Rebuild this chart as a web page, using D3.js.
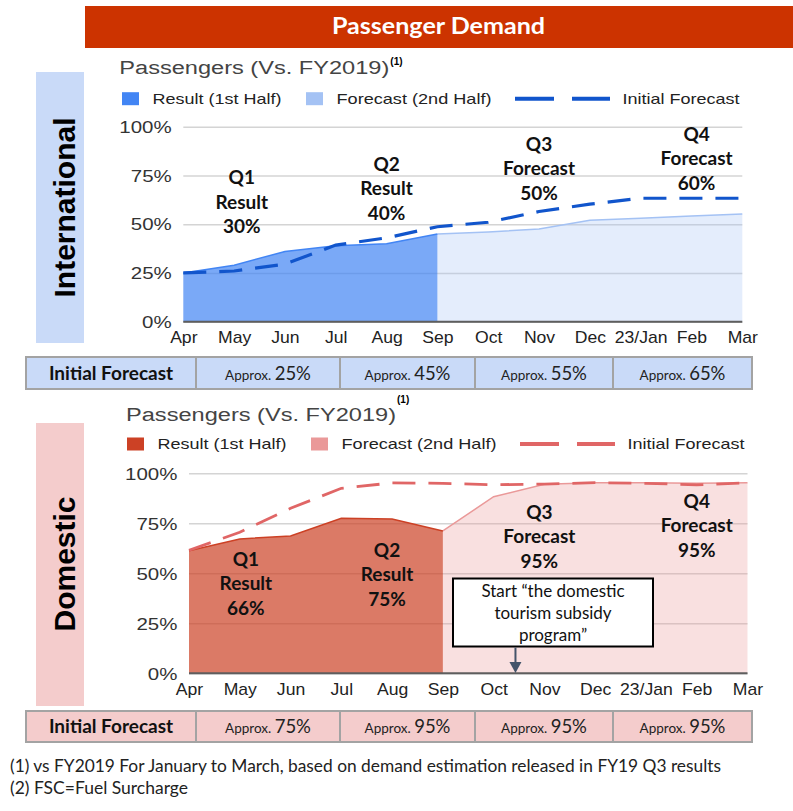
<!DOCTYPE html>
<html><head><meta charset="utf-8">
<script src="https://cdn.jsdelivr.net/npm/d3@7"></script>
<style>body{margin:0;background:#fff}svg{display:block}</style>
</head><body>
<svg id="c" width="793" height="811"></svg>
<script>
// ---------------- DATA ----------------
const headerTitle = "Passenger Demand";
const chartTitle = "Passengers (Vs. FY2019)";
const months = ["Apr","May","Jun","Jul","Aug","Sep","Oct","Nov","Dec","23/Jan","Feb","Mar"];
const yTicks = [0, 25, 50, 75, 100];
const legendLabels = ["Result (1st Half)", "Forecast (2nd Half)", "Initial Forecast"];

// International (% vs FY2019)
const intlResult   = [25, 29, 36, 39, 40, 45];                 // Apr..Sep
const intlForecast = [45, 46, 47.5, 52, 53, 54.2, 55.2];       // Sep..Mar
const intlInitial  = [25, 26, 29.5, 39.3, 43, 48.7, 51, 56.5, 60.3, 63.3, 63.3, 63.3];

// Domestic (% vs FY2019)
const domResult   = [61.3, 67.2, 68.7, 77.5, 77.2, 71.2];      // Apr..Sep
const domForecast = [71.2, 88.3, 94.5, 95.3, 95.3, 95, 95.3];  // Sep..Mar
const domInitial  = [61.5, 70.5, 82.5, 92.5, 95.2, 95, 94.3, 94.6, 95.3, 95, 94.2, 95.3];

const quarterNames = ["Q1", "Q2", "Q3", "Q4"];
const quarterKinds = ["Result", "Result", "Forecast", "Forecast"];
const intlQuarterValues = ["30%", "40%", "50%", "60%"];
const domQuarterValues  = ["66%", "75%", "95%", "95%"];

const tableHeader = "Initial Forecast";
const approxWord = "Approx.";
const intlTable = ["25%", "45%", "55%", "65%"];
const domTable  = ["75%", "95%", "95%", "95%"];

const calloutLines = ["Start \u201Cthe domestic", "tourism subsidy", "program\u201D"];
const footnotes = [
  "(1) vs FY2019 For January to March, based on demand estimation released in FY19 Q3 results",
  "(2) FSC=Fuel Surcharge"
];

// ---------------- DRAW ----------------
const svg = d3.select("#c");
const ARIAL = "'Liberation Sans', Arial, sans-serif";
const CAL = "Lato, 'Open Sans', sans-serif";

// header
svg.append("rect").attr("x", 85).attr("y", 6).attr("width", 708).attr("height", 42).attr("fill", "#CC3300");
svg.append("text").attr("x", 438.5).attr("y", 33.5).attr("text-anchor", "middle")
  .attr("font-family", CAL).attr("font-weight", 700).attr("font-size", 23).attr("fill", "#fff")
  .attr("textLength", 213).attr("lengthAdjust", "spacingAndGlyphs").text(headerTitle);

function panel(c) {
  // side label
  svg.append("rect").attr("x", 36).attr("y", c.sideTop).attr("width", 48).attr("height", c.sideH).attr("fill", c.sideFill);
  svg.append("text").attr("transform", `translate(75,${c.sideMid}) rotate(-90)`).attr("text-anchor", "middle")
    .attr("font-family", ARIAL).attr("font-weight", 700).attr("font-size", 30).attr("fill", "#000").text(c.sideLabel);

  // title
  svg.append("text").attr("x", c.titleX).attr("y", c.titleY).attr("font-family", ARIAL).attr("font-size", 18)
    .attr("fill", "#444").attr("textLength", 270).attr("lengthAdjust", "spacingAndGlyphs").text(chartTitle);
  svg.append("text").attr("x", c.titleX + 271).attr("y", c.supY).attr("font-family", ARIAL).attr("font-weight", 700)
    .attr("font-size", 10).attr("fill", "#000").text("(1)");

  // legend
  const lg = svg.append("g").attr("transform", `translate(${c.legX},${c.legY})`);
  lg.append("rect").attr("x", 0).attr("y", -6.5).attr("width", 17).attr("height", 13).attr("fill", c.resColor);
  lg.append("rect").attr("x", 184).attr("y", -6.5).attr("width", 17).attr("height", 13).attr("fill", c.fcColor);
  [[393, 432], [450, 488]].forEach(([a, b]) =>
    lg.append("line").attr("x1", a).attr("x2", b).attr("y1", 0).attr("y2", 0).attr("stroke", c.dashColor).attr("stroke-width", 4));
  [[30.5, 129], [214.5, 155], [500.5, 117]].forEach(([px, w], i) =>
    lg.append("text").attr("x", px).attr("y", 5.4).attr("font-family", ARIAL).attr("font-size", 15).attr("fill", "#222")
      .attr("textLength", w).attr("lengthAdjust", "spacingAndGlyphs").text(legendLabels[i]));

  const x = d3.scaleLinear().domain([0, months.length - 1]).range([c.x0, c.x1]);
  const y = d3.scaleLinear().domain([0, 100]).range([c.yb, c.yt]);

  // y axis with gridlines
  const ya = svg.append("g").attr("transform", `translate(${c.x0},0)`)
    .call(d3.axisLeft(y).tickValues(yTicks).tickFormat(d => d + "%").tickSize(-(c.x1 - c.x0)).tickPadding(0));
  ya.select(".domain").remove();
  ya.selectAll(".tick line").attr("stroke", "#D4D4D4").attr("stroke-width", 1.5);
  ya.selectAll(".tick text").attr("font-family", ARIAL).attr("font-size", 16).attr("fill", "#333")
    .attr("x", -11.6 / 1.28).attr("dy", "0.36em").attr("transform", "scale(1.28,1)");

  // areas
  const area = d3.area().x(d => x(d.i)).y0(y(0)).y1(d => y(d.v));
  const line = d3.line().x(d => x(d.i)).y(d => y(d.v));
  const res = c.result.map((v, i) => ({ i, v }));
  const fc = c.forecast.map((v, i) => ({ i: i + c.result.length - 1, v }));
  svg.append("path").datum(fc).attr("d", area).attr("fill", c.fcColor).attr("fill-opacity", 0.3);
  svg.append("path").datum(fc).attr("d", line).attr("fill", "none").attr("stroke", c.fcColor).attr("stroke-width", 1.5);
  svg.append("path").datum(res).attr("d", area).attr("fill", c.resColor).attr("fill-opacity", 0.7);
  svg.append("path").datum(res).attr("d", line).attr("fill", "none").attr("stroke", c.resColor).attr("stroke-width", 1.5);

  // baseline
  svg.append("line").attr("x1", c.x0).attr("x2", c.x1).attr("y1", y(0)).attr("y2", y(0)).attr("stroke", "#5E5E5E").attr("stroke-width", 2);

  // initial forecast dashed
  svg.append("path").datum(c.initial.map((v, i) => ({ i, v }))).attr("d", line).attr("fill", "none")
    .attr("stroke", c.dashColor).attr("stroke-width", c.dashW).attr("stroke-dasharray", "23 13");

  // x axis labels
  const xa = svg.append("g").attr("transform", `translate(0,${c.yb})`)
    .call(d3.axisBottom(x).tickValues(d3.range(months.length)).tickFormat(i => months[i]).tickSize(0));
  xa.select(".domain").remove();
  xa.selectAll(".tick text").attr("font-family", ARIAL).attr("font-size", 16).attr("fill", "#222")
    .attr("y", 21.7).attr("dy", null).attr("transform", "scale(1.1,1)");

  // quarter annotations
  quarterNames.forEach((q, k) => {
    const lines = [q, quarterKinds[k], c.qValues[k]];
    lines.forEach((s, j) => svg.append("text").attr("x", x(c.qPos[k])).attr("y", c.qTop[k] + j * 24.6 + 6.6)
      .attr("text-anchor", "middle").attr("font-family", CAL).attr("font-weight", 700).attr("font-size", 19)
      .attr("fill", "#111").text(s));
  });

  // table
  const tb = svg.append("g");
  const cols = [26, 196, 340, 475, 613, 752];
  tb.append("rect").attr("x", cols[0]).attr("y", c.tabTop).attr("width", cols[5] - cols[0]).attr("height", c.tabH)
    .attr("fill", c.sideFill).attr("stroke", "#A3A3A3").attr("stroke-width", 2);
  cols.slice(1, 5).forEach(cx => tb.append("line").attr("x1", cx).attr("x2", cx).attr("y1", c.tabTop).attr("y2", c.tabTop + c.tabH)
    .attr("stroke", "#A3A3A3").attr("stroke-width", 2));
  const by = c.tabTop + c.tabH / 2 + 6.5;
  tb.append("text").attr("x", (cols[0] + cols[1]) / 2).attr("y", by).attr("text-anchor", "middle").attr("font-family", CAL)
    .attr("font-weight", 700).attr("font-size", 19).attr("fill", "#111").text(tableHeader);
  c.table.forEach((v, k) => {
    const t = tb.append("text").attr("x", (cols[k + 1] + cols[k + 2]) / 2).attr("y", by).attr("text-anchor", "middle")
      .attr("font-family", CAL).attr("fill", "#222");
    t.append("tspan").attr("font-size", 13.5).text(approxWord + " ");
    t.append("tspan").attr("font-size", 18.5).text(v);
  });
  return { x, y };
}

panel({
  sideTop: 72, sideH: 271, sideMid: 207.5, sideFill: "#C9DAF8", sideLabel: "International",
  titleX: 119.3, titleY: 74, supY: 65, legX: 122, legY: 98.7,
  resColor: "#4285F4", fcColor: "#A4C2F4", dashColor: "#1155CC", dashW: 3.2,
  x0: 183.3, x1: 742.3, yb: 321.7, yt: 126.7,
  result: intlResult, forecast: intlForecast, initial: intlInitial,
  qValues: intlQuarterValues, qPos: [1.15, 4, 7, 10.1], qTop: [177.5, 164, 144, 134],
  tabTop: 357, tabH: 32, table: intlTable
});

const dom = panel({
  sideTop: 423, sideH: 283, sideMid: 564, sideFill: "#F4CCCC", sideLabel: "Domestic",
  titleX: 126, titleY: 420.7, supY: 403, legX: 127, legY: 444,
  resColor: "#CC4125", fcColor: "#EA9999", dashColor: "#E06666", dashW: 2.8,
  x0: 189, x1: 747.5, yb: 673.3, yt: 473.3,
  result: domResult, forecast: domForecast, initial: domInitial,
  qValues: domQuarterValues, qPos: [1.12, 3.9, 6.9, 10], qTop: [559, 550, 512, 501],
  tabTop: 711, tabH: 31, table: domTable
});

// callout
const cb = svg.append("g");
cb.append("rect").attr("x", 453).attr("y", 578.5).attr("width", 200).attr("height", 68).attr("fill", "#fff")
  .attr("stroke", "#000").attr("stroke-width", 2);
calloutLines.forEach((s, j) => cb.append("text").attr("x", 553).attr("y", 596.5 + j * 22.2).attr("text-anchor", "middle")
  .attr("font-family", CAL).attr("font-size", 17).attr("fill", "#111").text(s));
const ax = dom.x(6.43);
cb.append("line").attr("x1", ax).attr("x2", ax).attr("y1", 647.5).attr("y2", 663).attr("stroke", "#44546A").attr("stroke-width", 2);
cb.append("path").attr("d", `M${ax - 6},662 L${ax + 6},662 L${ax},673 Z`).attr("fill", "#44546A");

// footnotes
const footW = [711, 178];
footnotes.forEach((s, j) => svg.append("text").attr("x", 10).attr("y", 772 + j * 21.5).attr("font-family", CAL)
  .attr("font-size", 17.2).attr("fill", "#222").attr("textLength", footW[j]).attr("lengthAdjust", "spacingAndGlyphs").text(s));
</script>
</body></html>
